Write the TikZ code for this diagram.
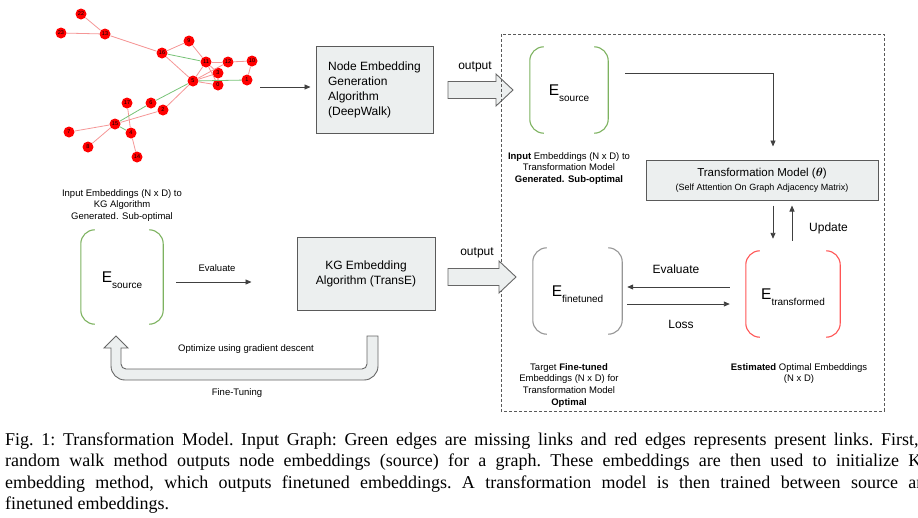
\documentclass[tikz,border=0pt]{standalone}
\usepackage{amsmath}
\usepackage{fontspec}
\setmainfont{Liberation Sans}
\newfontfamily\capfont{Liberation Serif}
\usetikzlibrary{arrows.meta,positioning}
\definecolor{boxfill}{RGB}{236,239,239}
\definecolor{boxline}{RGB}{90,90,90}
\definecolor{srcgreen}{RGB}{125,178,95}
\definecolor{ftgray}{RGB}{150,150,150}
\definecolor{trred}{RGB}{255,85,85}
\definecolor{edgered}{RGB}{245,150,150}
\definecolor{edgegreen}{RGB}{120,195,120}
\tikzset{
  algo/.style   ={rectangle, draw=boxline, fill=boxfill, line width=1pt, inner sep=0pt,
                  align=center, font=\fontsize{12}{15}\selectfont},
  embed/.style  ={rectangle, inner sep=0pt, text height=11pt, text depth=0pt},
  gnode/.style  ={circle, fill=red, inner sep=0pt, minimum size=11pt,
                  font=\fontsize{5.5}{6}\selectfont},
  redge/.style  ={edgered, line width=0.8pt},
  gedge/.style  ={edgegreen, line width=0.8pt},
  flow/.style   ={-{Triangle[length=6pt,width=5pt]}, line width=0.9pt, draw=black!75},
  fat/.style    ={draw=black!60, fill=boxfill, line width=0.9pt, line join=miter},
  frame/.style  ={draw=black!65, line width=0.8pt, dash pattern=on 3pt off 2pt},
  lbl/.style    ={font=\fontsize{9.5}{11.8}\selectfont, align=center, inner sep=0pt},
  biglbl/.style ={font=\fontsize{12}{14}\selectfont, inner sep=0pt},
  capline/.style={anchor=base west, inner sep=0pt,
                  font=\capfont\fontsize{18}{21.6}\selectfont\frenchspacing},
}
\newcommand{\Esym}[1]{{\fontsize{15.5}{16}\selectfont E}\raisebox{-6pt}{\fontsize{10}{10}\selectfont #1}}
\newcommand{\parens}[2]{%
  \draw[#2, line width=1.1pt, rounded corners=14pt]
    ([xshift=14pt]#1.north west) -- (#1.north west) -- (#1.south west) -- ([xshift=14pt]#1.south west);
  \draw[#2, line width=1.1pt, rounded corners=14pt]
    ([xshift=-14pt]#1.north east) -- (#1.north east) -- (#1.south east) -- ([xshift=-14pt]#1.south east);}
\newcommand{\fatarrow}[3]{% from x, tip x, y
  \draw[fat] (#1,#3-8.5) -- (#2-17,#3-8.5) -- (#2-17,#3-16) -- (#2,#3)
    -- (#2-17,#3+16) -- (#2-17,#3+8.5) -- (#1,#3+8.5) -- cycle;}

\begin{document}
\begin{tikzpicture}[x=1pt, y=-1pt]
  \useasboundingbox (0,0) rectangle (918,517);
  \clip (0,0) rectangle (918,517);

  % input graph
  \foreach \n/\x/\y in {22/81/14, 23/61/33, 13/105/34, 16/162/53, 9/189/41, 11/206/62,
      12/228/62, 10/252/61, 3/218/73, 5/193/81, 0/218/85, 1/247/80, 6/151/103,
      17/127/103, 2/163/110, 15/115/124, 7/69/132, 4/131/133, 8/88/147, 14/137/157}
    \node[gnode] (g\n) at (\x,\y) {\n};
  \foreach \a/\b in {22/13, 23/13, 13/16, 16/9, 16/5, 9/11, 11/12, 12/10, 10/1, 11/5,
      11/3, 11/0, 5/3, 5/12, 5/0, 5/2, 2/15, 15/7, 15/8, 17/4, 4/14}
    \draw[redge] (g\a) -- (g\b);
  \foreach \a/\b in {16/11, 5/1, 5/6, 6/15, 15/4}
    \draw[gedge] (g\a) -- (g\b);

  % top row
  \coordinate (gout) at (260,87);
  \node[algo, minimum width=117pt, minimum height=87pt, align=left] (deepwalk) at (374.5,89.5)
    {Node Embedding\\Generation\\Algorithm\\(DeepWalk)};
  \draw[flow, shorten >=5pt] (gout) -- (gout -| deepwalk.west);

  \node[biglbl] (out1) at (475,67) {output};
  \fatarrow{448}{513}{90}

  \draw[frame] (501,34) rectangle (884,411);

  \node[embed, minimum width=78pt, minimum height=86pt] (esrcA) at (569,90) {\Esym{source}};
  \parens{esrcA}{srcgreen}
  \node[lbl, anchor=north] (esrcAtxt) at (569,152)
    {\textbf{Input} Embeddings (N x D) to\\Transformation Model\\\textbf{Generated. Sub-optimal}};

  \node[algo, minimum width=232pt, minimum height=40pt] (trans) at (762,180)
    {{\fontsize{11.5}{13}\selectfont Transformation Model ($\boldsymbol{\theta}$)}\\[-1pt]
     {\fontsize{9}{11}\selectfont (Self Attention On Graph Adjacency Matrix)}};
  \draw[flow, shorten >=13pt] ([xshift=17pt,yshift=17pt]esrcA.east) -| ([xshift=11pt]trans.north);

  % lower row, right
  \node[embed, minimum width=94pt, minimum height=86pt] (etrans) at (793,294) {\Esym{transformed}};
  \parens{etrans}{trred}
  \node[embed, minimum width=89pt, minimum height=86pt] (efine) at (577.5,291) {\Esym{finetuned}};
  \parens{efine}{ftgray}

  \draw[flow, shorten <=5pt, shorten >=12pt] ([xshift=11pt]trans.south) -- ([xshift=-20pt]etrans.north);
  \draw[flow, shorten <=10pt, shorten >=5pt] ([xshift=-1pt]etrans.north) -- ([xshift=30pt]trans.south);
  \node[biglbl, anchor=west] (upd) at (809,228) {Update};

  \draw[flow, shorten <=16pt, shorten >=5pt] ([yshift=7pt]etrans.west) -- ([yshift=4pt]efine.east);
  \draw[flow, shorten <=5pt, shorten >=16pt] ([yshift=-13pt]efine.east) -- ([yshift=-10pt]etrans.west);
  \node[biglbl] (evalR) at (676,269) {Evaluate};
  \node[biglbl] (loss) at (681,324) {Loss};

  \node[lbl, anchor=north] (efinetxt) at (569,363)
    {Target \textbf{Fine-tuned}\\Embeddings (N x D) for\\Transformation Model\\\textbf{Optimal}};
  \node[lbl, anchor=north] (etranstxt) at (799,363)
    {\textbf{Estimated} Optimal Embeddings\\(N x D)};

  % lower row, left
  \node[lbl, anchor=north] (esrcBtxt) at (122,189)
    {Input Embeddings (N x D) to\\KG Algorithm\\Generated. Sub-optimal};
  \node[embed, minimum width=82pt, minimum height=94pt] (esrcB) at (122,277) {\Esym{source}};
  \parens{esrcB}{srcgreen}
  \node[algo, minimum width=138pt, minimum height=73pt] (transe) at (366,273.5)
    {KG Embedding\\Algorithm (TransE)};
  \draw[flow, shorten <=13pt, shorten >=45pt] ([yshift=-5pt]esrcB.east) -- ([yshift=-8.5pt]transe.west);
  \node[lbl] (evalL) at (217,268) {Evaluate};

  \node[biglbl] (out2) at (477,253) {output};
  \fatarrow{448}{516}{277}

  % fine-tuning loop
  \draw[fat] (367,336) -- (367,364) arc[start angle=0, end angle=90, radius=5]
    -- (126,369) arc[start angle=90, end angle=180, radius=5]
    -- (121,348) -- (128,348) -- (116,336) -- (104,348) -- (111,348)
    -- (111,366) arc[start angle=180, end angle=90, radius=14]
    -- (364,380) arc[start angle=90, end angle=0, radius=14]
    -- (378,336) -- cycle;
  \node[lbl] (optim) at (246,349) {Optimize using gradient descent};
  \node[lbl] (ftune) at (237,393) {Fine-Tuning};

  % caption
  \node[capline] (cap1) at (5,445) {\makebox[929pt][s]{Fig. 1: Transformation Model. Input Graph: Green edges are missing links and red edges represents present links. First, a}};
  \node[capline] (cap2) at (5,466.6) {\makebox[929pt][s]{random walk method outputs node embeddings (source) for a graph. These embeddings are then used to initialize KG}};
  \node[capline] (cap3) at (5,488.2) {\makebox[929pt][s]{embedding method, which outputs finetuned embeddings. A transformation model is then trained between source and}};
  \node[capline] (cap4) at (5,509.8) {finetuned embeddings.};
\end{tikzpicture}
\end{document}
